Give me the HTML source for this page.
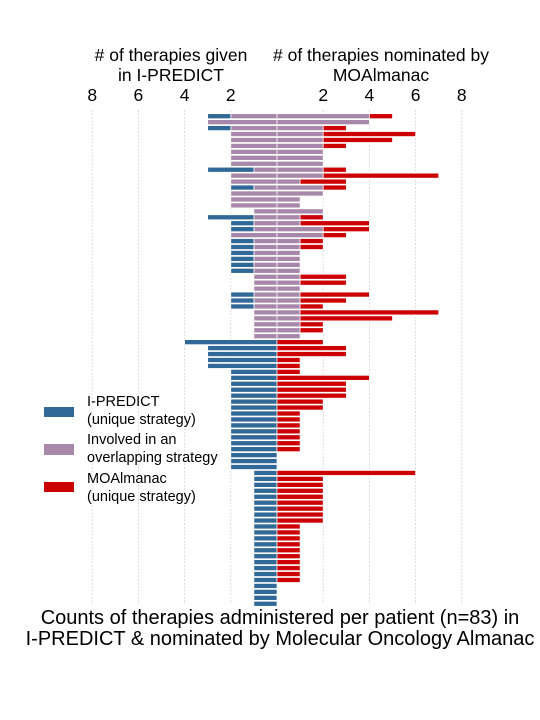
<!DOCTYPE html>
<html><head><meta charset="utf-8"><style>
html,body{margin:0;padding:0;background:#fff;}
svg{display:block;font-family:"Liberation Sans",Arial,sans-serif;}
</style></head><body>
<svg id="chart" width="540" height="720" viewBox="0 0 540 720" xmlns="http://www.w3.org/2000/svg">
<g id="grid"></g>
<g id="bars"></g>
<g font-size="17.5" fill="#000" text-anchor="middle">
<text x="171" y="61">
<tspan x="171" y="61"># of therapies given</tspan><tspan x="171" y="81">in I-PREDICT</tspan></text>
<text x="381" y="61">
<tspan x="381" y="61"># of therapies nominated by</tspan><tspan x="381" y="81">MOAlmanac</tspan></text>
</g>
<g id="ticks" font-size="17.5" text-anchor="middle"></g>
<g font-size="14.5" fill="#000">
<rect x="44" y="407" width="30" height="10" fill="#306897"/>
<text><tspan x="87" y="406">I-PREDICT</tspan><tspan x="87" y="424">(unique strategy)</tspan></text>
<rect x="44" y="444" width="30" height="11" fill="#a888aa"/>
<text><tspan x="87" y="444">Involved in an</tspan><tspan x="87" y="462">overlapping strategy</tspan></text>
<rect x="44" y="482" width="30" height="10" fill="#cc0000"/>
<text><tspan x="87" y="483">MOAlmanac</tspan><tspan x="87" y="501">(unique strategy)</tspan></text>
</g>
<g font-size="20" text-anchor="middle">
<text><tspan x="280" y="624">Counts of therapies administered per patient (n=83) in</tspan><tspan x="280" y="645">I-PREDICT &amp; nominated by Molecular Oncology Almanac</tspan></text>
</g>
</svg>
<script>
// per-patient counts (top to bottom)
const blueUnique = [1,0,1,0,0,0,0,0,0,2,0,0,1,0,0,0,0,2,1,1,0,1,1,1,1,1,1,0,0,0,1,1,1,0,0,0,0,0,4,3,3,3,3,2,2,2,2,2,2,2,2,2,2,2,2,2,2,2,2,2,1,1,1,1,1,1,1,1,1,1,1,1,1,1,1,1,1,1,1,1,1,1,1];
const overlapLeft = [2,3,2,2,2,2,2,2,2,1,2,2,1,2,2,2,1,1,1,1,2,1,1,1,1,1,1,1,1,1,1,1,1,1,1,1,1,1,0,0,0,0,0,0,0,0,0,0,0,0,0,0,0,0,0,0,0,0,0,0,0,0,0,0,0,0,0,0,0,0,0,0,0,0,0,0,0,0,0,0,0,0,0];
const overlapRight = [4,4,2,2,2,2,2,2,2,2,2,1,2,2,1,1,2,1,1,2,2,1,1,1,1,1,1,1,1,1,1,1,1,1,1,1,1,1,0,0,0,0,0,0,0,0,0,0,0,0,0,0,0,0,0,0,0,0,0,0,0,0,0,0,0,0,0,0,0,0,0,0,0,0,0,0,0,0,0,0,0,0,0];
const redUnique = [1,0,1,4,3,1,0,0,0,1,5,2,1,0,0,0,0,1,3,2,1,1,1,0,0,0,0,2,2,0,3,2,1,6,4,1,1,0,2,3,3,1,1,1,4,3,3,3,2,2,1,1,1,1,1,1,1,0,0,0,6,2,2,2,2,2,2,2,2,1,1,1,1,1,1,1,1,1,1,0,0,0,0];
const tickValues = [8,6,4,2,2,4,6,8];
const tickSides = [-1,-1,-1,-1,1,1,1,1];

const NS='http://www.w3.org/2000/svg';
const cx=277, unit=23.1, y0=113.7, pitch=5.946, barH=5.0;
const xs = (side,v)=> cx + side*v*unit;
const ys = i => y0 + i*pitch;

const grid=document.getElementById('grid');
const ticks=document.getElementById('ticks');
tickValues.forEach((v,k)=>{
  const x=xs(tickSides[k],v);
  const l=document.createElementNS(NS,'line');
  
  
  l.setAttribute('x1',x);l.setAttribute('x2',x);l.setAttribute('y1',110);l.setAttribute('y2',604);
  l.setAttribute('stroke','#d4d4d4');l.setAttribute('stroke-width','0.8');l.setAttribute('stroke-dasharray','2,1.5');
  grid.appendChild(l);
  const t=document.createElementNS(NS,'text');
  
  
  t.setAttribute('x',x);t.setAttribute('y',101);t.textContent=v;
  ticks.appendChild(t);
});

const bars=document.getElementById('bars');
function seg(side,start,n,color,name,i){
  if(n<=0) return;
  const a=xs(side,start), b=xs(side,start+n);
  const r=document.createElementNS(NS,'rect');
  
  
  r.setAttribute('x',Math.min(a,b));r.setAttribute('y',ys(i));
  r.setAttribute('width',Math.abs(b-a));r.setAttribute('height',barH);
  r.setAttribute('fill',color);r.setAttribute('stroke','#fff');r.setAttribute('stroke-width','0.7');
  bars.appendChild(r);
}
for(let i=0;i<blueUnique.length;i++){
  seg(-1,0,overlapLeft[i],'#a888aa','overlap-left-bar',i);
  seg(-1,overlapLeft[i],blueUnique[i],'#306897','ipredict-bar',i);
  seg(1,0,overlapRight[i],'#a888aa','overlap-right-bar',i);
  seg(1,overlapRight[i],redUnique[i],'#cc0000','moalmanac-bar',i);
}
</script>
</body></html>
